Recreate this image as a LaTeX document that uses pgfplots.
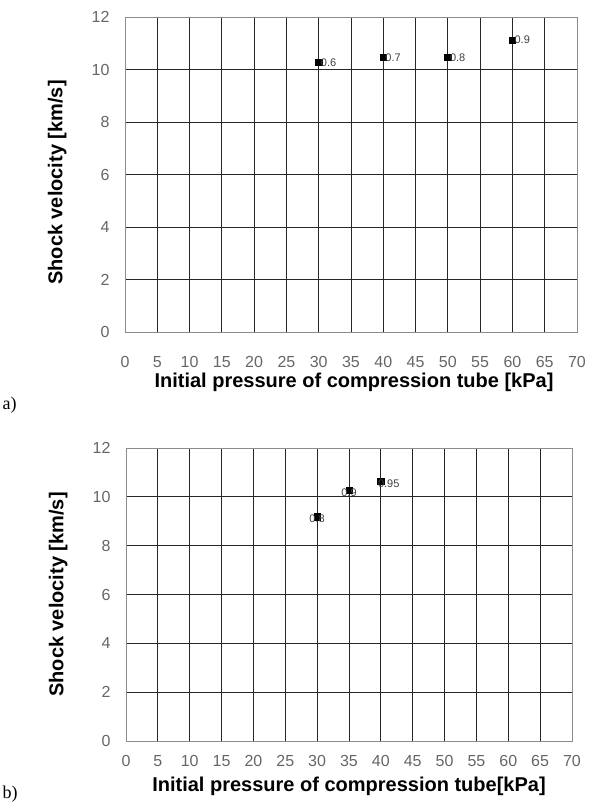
\documentclass[border=0pt]{standalone}
\usepackage{pgfplots}
\pgfplotsset{compat=1.18}
\usepackage{fontspec}
\setmainfont{Liberation Sans}
\newfontfamily\tagfont{Liberation Serif}

\pgfplotsset{
  shockaxis/.style={
    scale only axis,
    anchor=origin,
    xmin=0, xmax=70, ymin=0, ymax=12,
    xtick={0,5,...,70}, ytick={0,2,...,12},
    grid=major,
    major grid style={black!85, line width=0.8pt},
    axis line style={black!45, line width=0.8pt},
    tick style={draw=none},
    tick label style={font=\fontsize{16}{16}\selectfont, text=black!60},
    /pgf/number format/assume math mode=true,
    xticklabel style={anchor=center},
    yticklabel style={anchor=east, xshift=-12pt},
    ylabel={Shock velocity [km/s]},
    label style={font=\fontsize{20}{20}\selectfont\bfseries},
    xlabel style={at={(axis description cs:0.5,0)}, anchor=center},
    ylabel style={at={(axis description cs:0,0.5)}, anchor=south, yshift=55pt},
    clip=false,
  },
  pointlbl/.style={
    nodes near coords, point meta=explicit symbolic,
    every node near coord/.append style={font=\fontsize{11}{11}\selectfont, text=black!75, inner sep=1pt, #1},
  },
}

\begin{document}
\begin{tikzpicture}
\useasboundingbox (0pt,0pt) rectangle (590pt,-807pt);

% (a) pressure ratio series
\begin{axis}[shockaxis, at={(125pt,-332pt)},
  width=452pt, height=315pt,
  xlabel={Initial pressure of compression tube [kPa]},
  xticklabel style={yshift=-30pt},
  xlabel style={yshift=-50pt, xshift=3pt},
  ylabel style={xshift=-8pt}]
\addplot[only marks, mark=square*, mark size=3.2pt, black,
  pointlbl={anchor=west, xshift=1pt}] table[meta=lbl] {
x y lbl
30 10.27 0.6
40 10.46 0.7
50 10.46 0.8
60 11.12 0.9
};
\end{axis}
\node[font=\fontsize{18}{18}\selectfont\tagfont, anchor=west] at (-1pt,-405pt) {a)};

% (b)
\begin{axis}[shockaxis, at={(126pt,-741pt)},
  width=446pt, height=293pt,
  xlabel={Initial pressure of compression tube[kPa]},
  xticklabel style={yshift=-20pt},
  xlabel style={yshift=-45pt}]
\addplot[only marks, mark=square*, mark size=3.2pt, black,
  pointlbl={anchor=north, yshift=3pt}] table[meta=lbl] {
x y lbl
30 9.18 0.8
35 10.26 0.9
};
\addplot[only marks, mark=square*, mark size=3.2pt, black,
  pointlbl={anchor=north west, xshift=-4pt, yshift=3pt}] table[meta=lbl] {
x y lbl
40 10.63 0.95
};
\end{axis}
\node[font=\fontsize{18}{18}\selectfont\tagfont, anchor=west] at (-1pt,-794pt) {b)};
\end{tikzpicture}
\end{document}
